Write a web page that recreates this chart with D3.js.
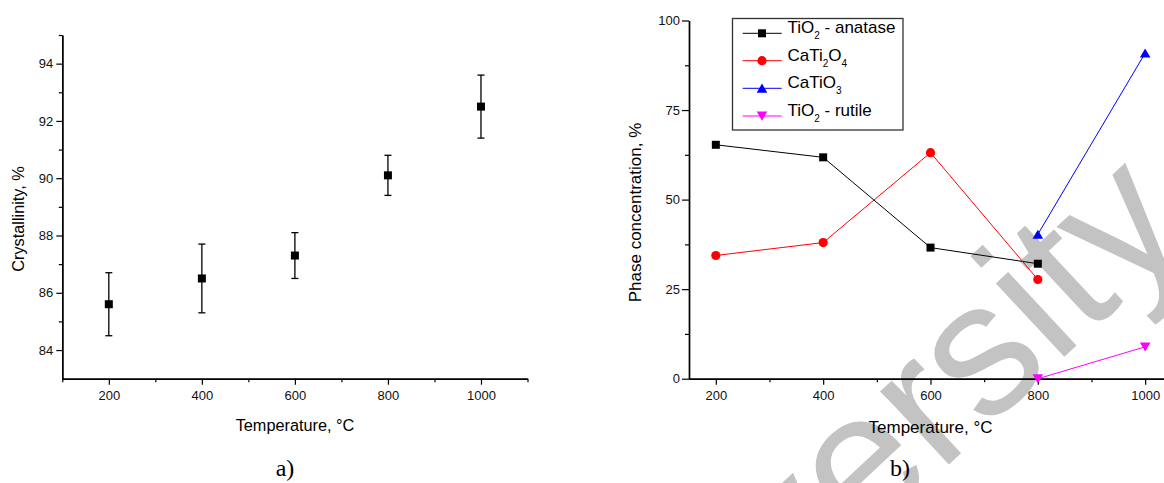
<html>
<head>
<script src="https://cdnjs.cloudflare.com/ajax/libs/d3/7.8.5/d3.min.js"></script>
<style>
  body { margin: 0; background: #fff; }
  text { font-family: "Liberation Sans", Arial, sans-serif; }
</style>
</head>
<body>
<div id="chart"></div>
<script>
// ---- data ----
// a) crystallinity
var tempsA = [200, 400, 600, 800, 1000];
var crystallinity = [85.6, 86.5, 87.3, 90.1, 92.5];
var crystErr = [1.1, 1.2, 0.8, 0.7, 1.1];
var xMajorA = [200, 400, 600, 800, 1000];
var xMinorA = [100, 300, 500, 700, 900, 1100];
var yMajorA = [84, 86, 88, 90, 92, 94];
var yMinorA = [85, 87, 89, 91, 93, 95];

// b) phase concentration
var tempsB = [200, 400, 600, 800];
var anatase = [65.3, 61.8, 36.6, 32.1];
var cati2o4 = [34.4, 38.0, 63.1, 27.7];
var tempsHigh = [800, 1000];
var catio3 = [40.3, 90.9];
var rutile = [0, 8.9];
var xMajorB = [200, 400, 600, 800, 1000];
var xMinorB = [300, 500, 700, 900];
var yMajorB = [0, 25, 50, 75, 100];
var yMinorB = [12.5, 37.5, 62.5, 87.5];

var width = 1164, height = 483;

var svg = d3.select("#chart").append("svg")
  .attr("width", width)
  .attr("height", height);

svg.append("rect").attr("width", width).attr("height", height).attr("fill", "#fff");

// watermark underneath everything
svg.append("text")
  .attr("transform", "translate(1194,236) rotate(-43)")
  .attr("text-anchor", "end")
  .style("font-size", "190px")
  .style("fill", "#c3c3c3")
  .text("University");

var fmt = d3.format("d");

function styleAxis(g) {
  g.select(".domain").attr("stroke", "#000").attr("stroke-width", 1.4);
  g.selectAll(".tick line").attr("stroke", "#000").attr("stroke-width", 1.2);
  g.selectAll(".tick text").style("font-size", "13px").style("font-family", "'Liberation Sans', Arial, sans-serif").attr("fill", "#111");
}

// ================= a) =================
var xA = d3.scaleLinear().domain([100, 1100]).range([62.3, 527.5]);
var yA = d3.scaleLinear().domain([83, 95]).range([378.7, 35]);

var gA = svg.append("g");

gA.append("g")
  .attr("transform", "translate(0," + yA(83) + ")")
  .call(d3.axisBottom(xA).tickValues(xMinorA).tickSize(3.5).tickSizeOuter(0).tickFormat(""))
  .call(styleAxis);
gA.append("g")
  .attr("transform", "translate(0," + yA(83) + ")")
  .call(d3.axisBottom(xA).tickValues(xMajorA).tickSize(6).tickSizeOuter(0).tickPadding(6).tickFormat(fmt))
  .call(styleAxis);
gA.append("g")
  .attr("transform", "translate(" + xA(100) + ",0)")
  .call(d3.axisLeft(yA).tickValues(yMinorA).tickSize(3.5).tickSizeOuter(0).tickFormat(""))
  .call(styleAxis);
gA.append("g")
  .attr("transform", "translate(" + xA(100) + ",0)")
  .call(d3.axisLeft(yA).tickValues(yMajorA).tickSize(6).tickSizeOuter(0).tickPadding(3).tickFormat(fmt))
  .call(styleAxis);

// error bars
var errG = gA.append("g").attr("stroke", "#000").attr("stroke-width", 1.3);
tempsA.forEach(function(t, i) {
  var cx = xA(t), lo = yA(crystallinity[i] - crystErr[i]), hi = yA(crystallinity[i] + crystErr[i]);
  errG.append("line").attr("x1", cx).attr("x2", cx).attr("y1", lo).attr("y2", hi);
  errG.append("line").attr("x1", cx - 3.5).attr("x2", cx + 3.5).attr("y1", lo).attr("y2", lo);
  errG.append("line").attr("x1", cx - 3.5).attr("x2", cx + 3.5).attr("y1", hi).attr("y2", hi);
});
gA.selectAll("rect.pt")
  .data(tempsA)
  .enter()
  .append("rect")
  .attr("class", "pt")
  .attr("x", function(d) { return xA(d) - 4; })
  .attr("y", function(d, i) { return yA(crystallinity[i]) - 4; })
  .attr("width", 8)
  .attr("height", 8)
  .attr("fill", "#000");

gA.append("text")
  .attr("x", 295).attr("y", 431)
  .attr("text-anchor", "middle")
  .style("font-size", "16.3px")
  .text("Temperature, \u00B0C");
gA.append("text")
  .attr("transform", "rotate(-90)")
  .attr("x", -219).attr("y", 24)
  .attr("text-anchor", "middle")
  .style("font-size", "16.3px")
  .text("Crystallinity, %");
gA.append("text")
  .attr("x", 285).attr("y", 476)
  .attr("text-anchor", "middle")
  .style("font-family", "'Liberation Serif', 'Times New Roman', serif")
  .style("font-size", "24px")
  .text("a)");

// ================= b) =================
var xB = d3.scaleLinear().domain([150, 1050]).range([689, 1172]);
var yB = d3.scaleLinear().domain([0, 100]).range([378.7, 20.5]);

var gB = svg.append("g");

gB.append("g")
  .attr("transform", "translate(0," + yB(0) + ")")
  .call(d3.axisBottom(xB).tickValues(xMinorB).tickSize(3.5).tickSizeOuter(0).tickFormat(""))
  .call(styleAxis);
gB.append("g")
  .attr("transform", "translate(0," + yB(0) + ")")
  .call(d3.axisBottom(xB).tickValues(xMajorB).tickSize(6).tickSizeOuter(0).tickPadding(6).tickFormat(fmt))
  .call(styleAxis);
gB.append("g")
  .attr("transform", "translate(" + xB(150) + ",0)")
  .call(d3.axisLeft(yB).tickValues(yMinorB).tickSize(4).tickSizeOuter(0).tickFormat(""))
  .call(styleAxis);
gB.append("g")
  .attr("transform", "translate(" + xB(150) + ",0)")
  .call(d3.axisLeft(yB).tickValues(yMajorB).tickSize(7).tickSizeOuter(0).tickPadding(2).tickFormat(fmt))
  .call(styleAxis);

var series = [
  { name: "anatase", xs: tempsB, ys: anatase, color: "#000000", shape: "square" },
  { name: "cati2o4", xs: tempsB, ys: cati2o4, color: "#ff0000", shape: "circle" },
  { name: "catio3", xs: tempsHigh, ys: catio3, color: "#0000ff", shape: "up" },
  { name: "rutile", xs: tempsHigh, ys: rutile, color: "#ff00ff", shape: "down" }
];

function markerPath(shape) {
  if (shape === "square") return "M-4,-4H4V4H-4Z";
  if (shape === "circle") return "M4.6,0A4.6,4.6 0 1,1 -4.6,0A4.6,4.6 0 1,1 4.6,0Z";
  if (shape === "up") return "M0,-4.7L5.3,4.4L-5.3,4.4Z";
  return "M0,4.7L5.3,-4.4L-5.3,-4.4Z";
}

var line = d3.line().x(function(d) { return xB(d[0]); }).y(function(d) { return yB(d[1]); });

series.forEach(function(s) {
  var pts = s.xs.map(function(x, i) { return [x, s.ys[i]]; });
  gB.append("path")
    .attr("d", line(pts))
    .attr("fill", "none")
    .attr("stroke", s.color)
    .attr("stroke-width", 1);
  gB.selectAll("path.m-" + s.name)
    .data(pts)
    .enter()
    .append("path")
    .attr("class", "m-" + s.name)
    .attr("transform", function(d) { return "translate(" + xB(d[0]) + "," + yB(d[1]) + ")"; })
    .attr("d", markerPath(s.shape))
    .attr("fill", s.color);
});

gB.append("text")
  .attr("x", 930.5).attr("y", 433)
  .attr("text-anchor", "middle")
  .style("font-size", "17px")
  .text("Temperature, \u00B0C");
gB.append("text")
  .attr("transform", "rotate(-90)")
  .attr("x", -212.5).attr("y", 641)
  .attr("text-anchor", "middle")
  .style("font-size", "17px")
  .text("Phase concentration, %");
gB.append("text")
  .attr("x", 900).attr("y", 476)
  .attr("text-anchor", "middle")
  .style("font-family", "'Liberation Serif', 'Times New Roman', serif")
  .style("font-size", "24px")
  .text("b)");

// legend
var legendLabels = [
  [["TiO", 0], ["2", 1], [" - anatase", 0]],
  [["CaTi", 0], ["2", 1], ["O", 0], ["4", 1]],
  [["CaTiO", 0], ["3", 1]],
  [["TiO", 0], ["2", 1], [" - rutile", 0]]
];
var legendY = [33.3, 60.7, 88.3, 116];

var lg = gB.append("g");
lg.append("rect")
  .attr("x", 732.5).attr("y", 18.5)
  .attr("width", 170.5).attr("height", 111.5)
  .attr("fill", "#fff")
  .attr("stroke", "#333")
  .attr("stroke-width", 1.3);

series.forEach(function(s, i) {
  var ly = legendY[i];
  lg.append("line")
    .attr("x1", 742.7).attr("x2", 781.7)
    .attr("y1", ly).attr("y2", ly)
    .attr("stroke", s.color).attr("stroke-width", 1);
  lg.append("path")
    .attr("transform", "translate(762," + ly + ")")
    .attr("d", markerPath(s.shape))
    .attr("fill", s.color);
  var t = lg.append("text")
    .attr("x", 787.5).attr("y", ly + 6)
    .style("font-size", "17px")
    .attr("fill", "#000");
  legendLabels[i].forEach(function(part) {
    t.append("tspan")
      .attr("dy", part[1] ? 6 : (t.selectAll("tspan").size() > 0 ? -6 : 0))
      .style("font-size", part[1] ? "10px" : "17px")
      .text(part[0]);
  });
});
</script>
</body>
</html>
